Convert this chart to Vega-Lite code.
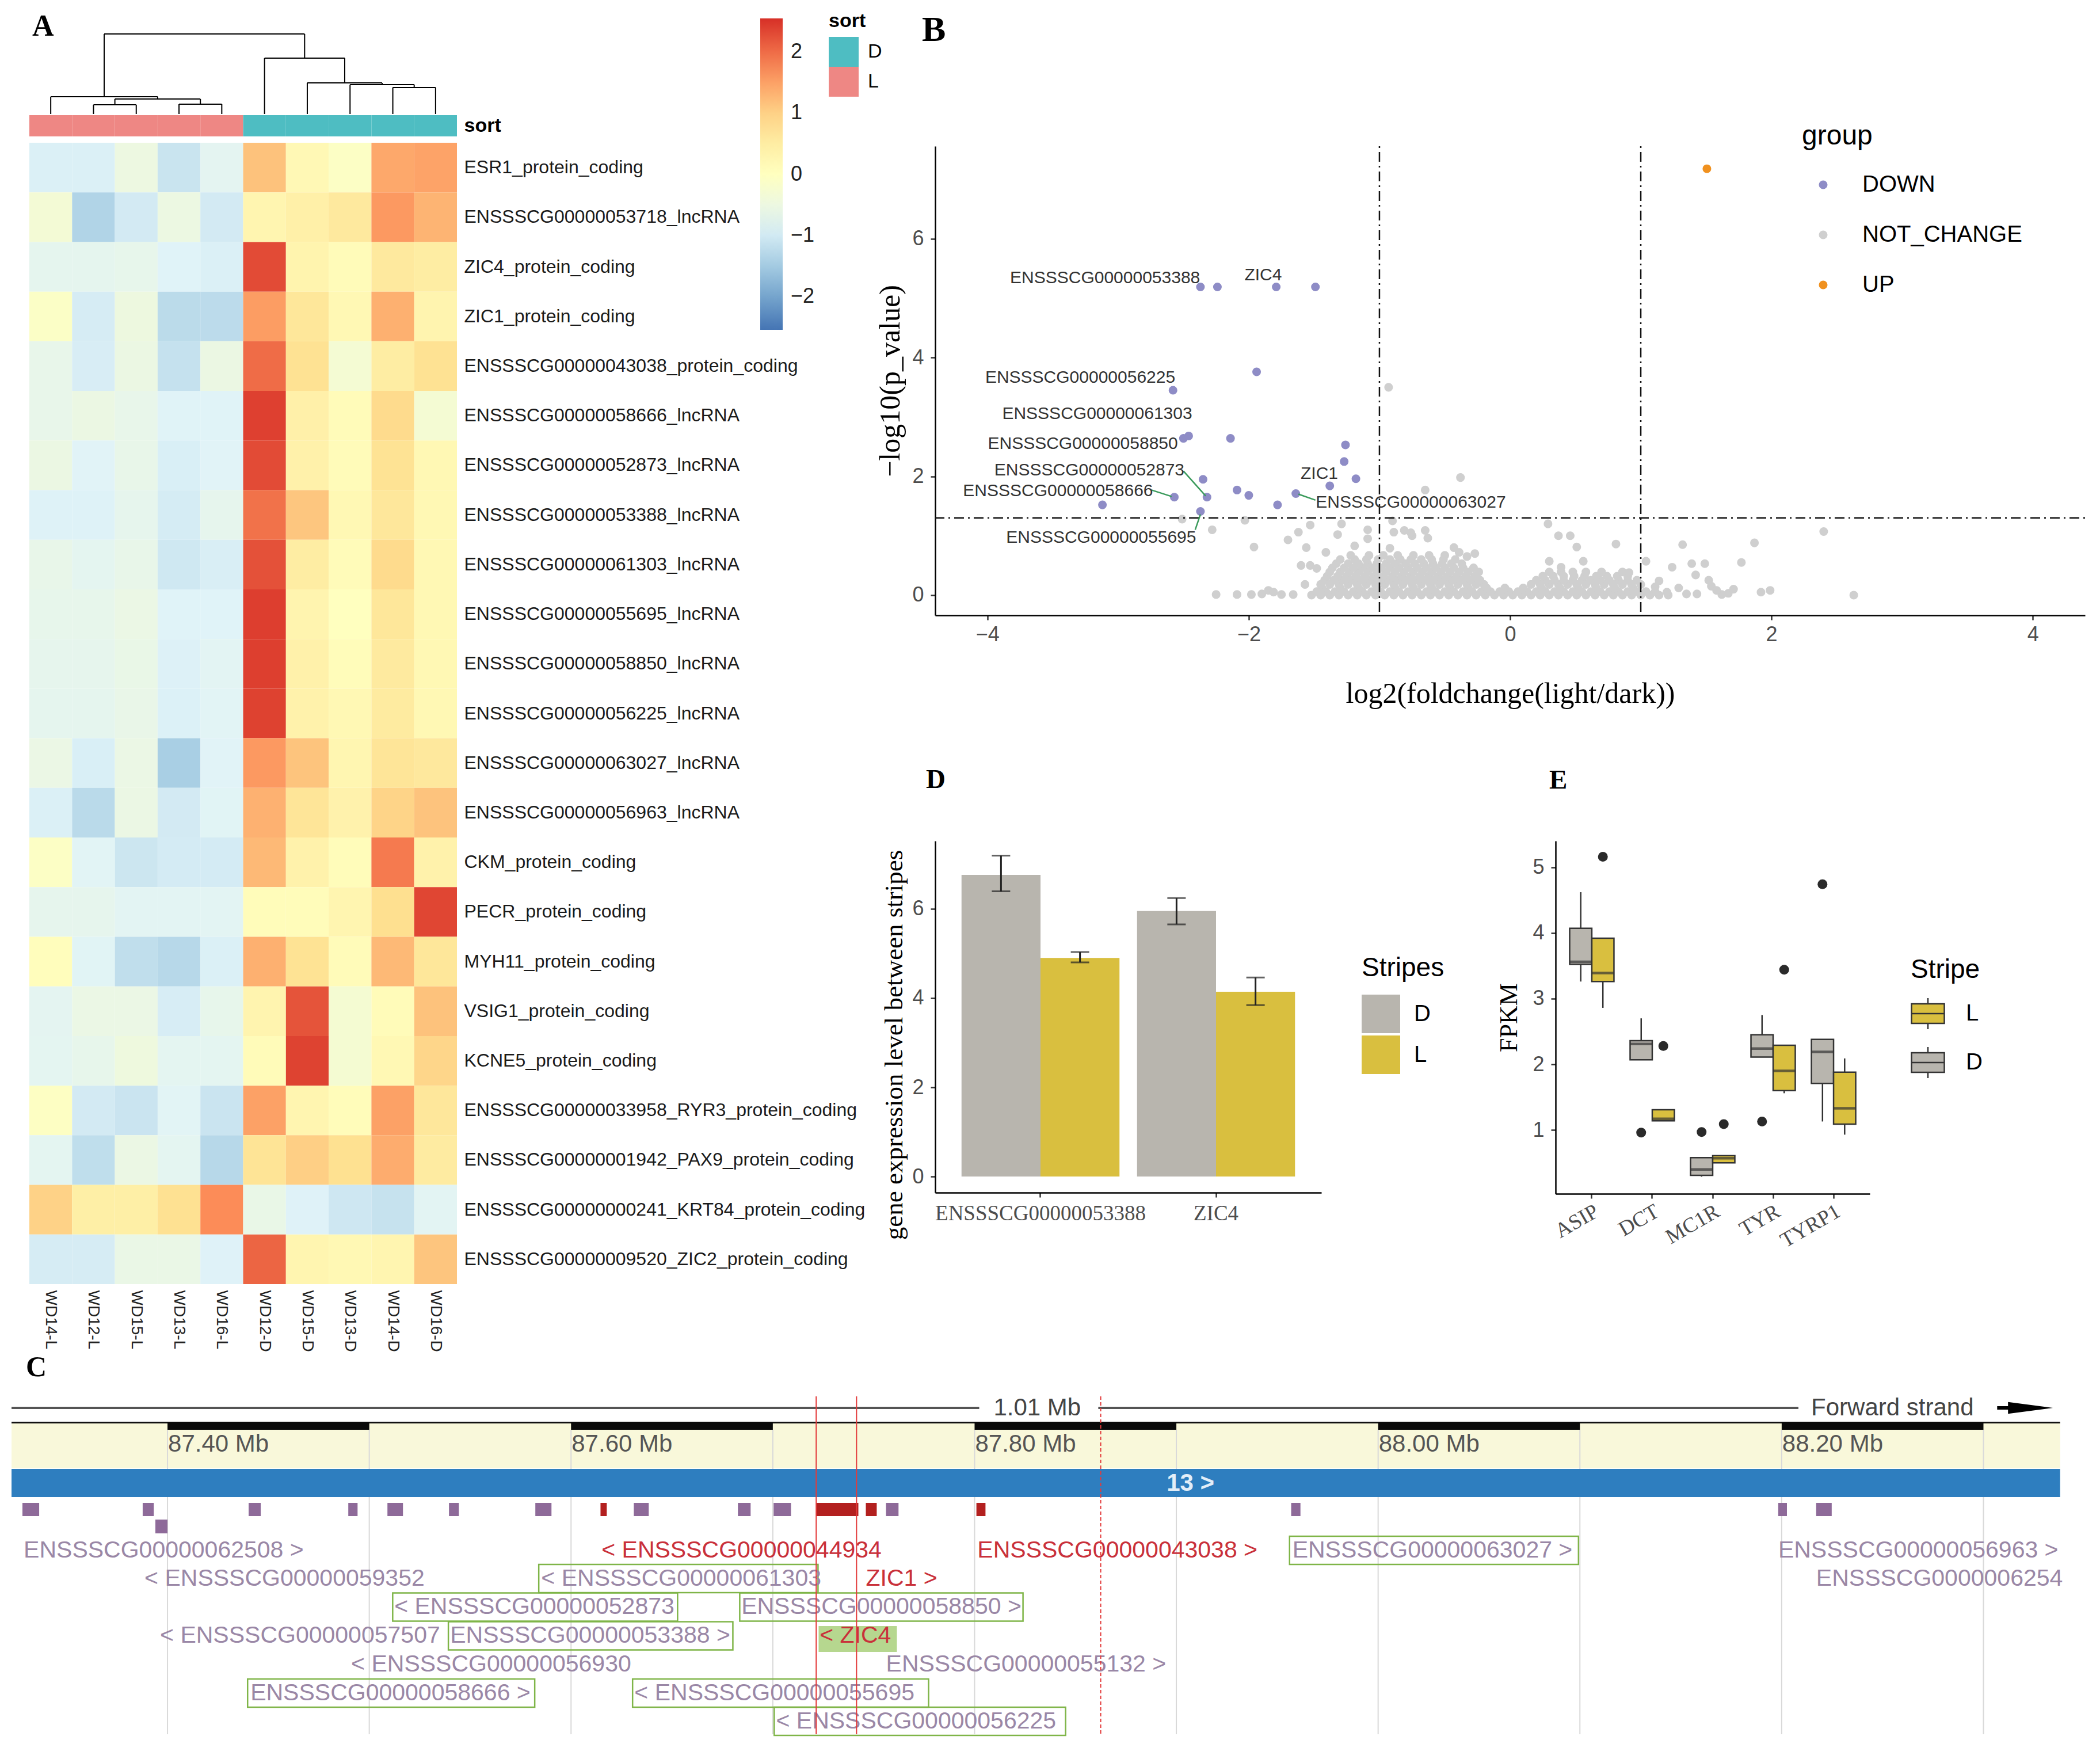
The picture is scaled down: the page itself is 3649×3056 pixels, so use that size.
{
"$schema": "https://vega.github.io/schema/vega-lite/v6.json",
"background": "white",
"padding": {"left": 18, "top": 20, "right": 0, "bottom": 0},
"autosize": {"type": "pad"},
"config": {
  "view": {"stroke": null},
  "font": "Liberation Sans",
  "axis": {"grid": false, "labelLimit": 0},
  "legend": {"labelLimit": 0},
  "title": {"font": "Liberation Serif", "fontWeight": "bold", "color": "#000", "anchor": "start", "frame": "group", "baseline": "alphabetic"}
},
"datasets": {
  "heat": [
    {"g":"ESR1_protein_coding","WD14-L":-0.9,"WD12-L":-0.9,"WD15-L":-0.5,"WD13-L":-1.1,"WD16-L":-0.75,"WD12-D":1.16,"WD15-D":0.18,"WD13-D":-0.09,"WD14-D":1.42,"WD16-D":1.47},
    {"g":"ENSSSCG00000053718_lncRNA","WD14-L":-0.33,"WD12-L":-1.36,"WD15-L":-0.99,"WD13-L":-0.52,"WD16-L":-0.99,"WD12-D":0.28,"WD15-D":0.42,"WD13-D":0.6,"WD14-D":1.58,"WD16-D":1.3},
    {"g":"ZIC4_protein_coding","WD14-L":-0.7,"WD12-L":-0.7,"WD15-L":-0.65,"WD13-L":-0.85,"WD16-L":-0.9,"WD12-D":2.3,"WD15-D":0.3,"WD13-D":0.1,"WD14-D":0.6,"WD16-D":0.5},
    {"g":"ZIC1_protein_coding","WD14-L":-0.1,"WD12-L":-0.96,"WD15-L":-0.48,"WD13-L":-1.25,"WD16-L":-1.24,"WD12-D":1.54,"WD15-D":0.67,"WD13-D":0.19,"WD14-D":1.34,"WD16-D":0.29},
    {"g":"ENSSSCG00000043038_protein_coding","WD14-L":-0.64,"WD12-L":-0.94,"WD15-L":-0.54,"WD13-L":-1.14,"WD16-L":-0.54,"WD12-D":2.0,"WD15-D":0.8,"WD13-D":-0.3,"WD14-D":0.5,"WD16-D":0.8},
    {"g":"ENSSSCG00000058666_lncRNA","WD14-L":-0.64,"WD12-L":-0.54,"WD15-L":-0.64,"WD13-L":-0.84,"WD16-L":-0.84,"WD12-D":2.4,"WD15-D":0.4,"WD13-D":0.1,"WD14-D":0.9,"WD16-D":-0.3},
    {"g":"ENSSSCG00000052873_lncRNA","WD14-L":-0.54,"WD12-L":-0.83,"WD15-L":-0.63,"WD13-L":-0.92,"WD16-L":-0.83,"WD12-D":2.3,"WD15-D":0.38,"WD13-D":0.1,"WD14-D":0.77,"WD16-D":0.19},
    {"g":"ENSSSCG00000053388_lncRNA","WD14-L":-0.87,"WD12-L":-0.87,"WD15-L":-0.69,"WD13-L":-0.97,"WD16-L":-0.69,"WD12-D":1.95,"WD15-D":1.12,"WD13-D":0.19,"WD14-D":0.65,"WD16-D":0.19},
    {"g":"ENSSSCG00000061303_lncRNA","WD14-L":-0.63,"WD12-L":-0.73,"WD15-L":-0.63,"WD13-L":-1.03,"WD16-L":-0.93,"WD12-D":2.25,"WD15-D":0.5,"WD13-D":0.1,"WD14-D":0.9,"WD16-D":0.2},
    {"g":"ENSSSCG00000055695_lncRNA","WD14-L":-0.66,"WD12-L":-0.66,"WD15-L":-0.56,"WD13-L":-0.85,"WD16-L":-0.85,"WD12-D":2.42,"WD15-D":0.29,"WD13-D":0.0,"WD14-D":0.67,"WD16-D":0.19},
    {"g":"ENSSSCG00000058850_lncRNA","WD14-L":-0.69,"WD12-L":-0.69,"WD15-L":-0.6,"WD13-L":-0.88,"WD16-L":-0.78,"WD12-D":2.41,"WD15-D":0.38,"WD13-D":0.09,"WD14-D":0.57,"WD16-D":0.19},
    {"g":"ENSSSCG00000056225_lncRNA","WD14-L":-0.7,"WD12-L":-0.7,"WD15-L":-0.61,"WD13-L":-0.89,"WD16-L":-0.8,"WD12-D":2.39,"WD15-D":0.37,"WD13-D":0.19,"WD14-D":0.56,"WD16-D":0.19},
    {"g":"ENSSSCG00000063027_lncRNA","WD14-L":-0.56,"WD12-L":-0.92,"WD15-L":-0.56,"WD13-L":-1.44,"WD16-L":-0.83,"WD12-D":1.58,"WD15-D":1.14,"WD13-D":0.26,"WD14-D":0.7,"WD16-D":0.62},
    {"g":"ENSSSCG00000056963_lncRNA","WD14-L":-0.9,"WD12-L":-1.26,"WD15-L":-0.55,"WD13-L":-0.99,"WD16-L":-0.81,"WD12-D":1.33,"WD15-D":0.71,"WD13-D":0.35,"WD14-D":0.97,"WD16-D":1.15},
    {"g":"CKM_protein_coding","WD14-L":-0.09,"WD12-L":-0.8,"WD15-L":-1.07,"WD13-L":-0.98,"WD16-L":-0.98,"WD12-D":1.25,"WD15-D":0.36,"WD13-D":0.09,"WD14-D":1.87,"WD16-D":0.36},
    {"g":"PECR_protein_coding","WD14-L":-0.68,"WD12-L":-0.68,"WD15-L":-0.77,"WD13-L":-0.77,"WD16-L":-0.77,"WD12-D":0.09,"WD15-D":0.09,"WD13-D":0.28,"WD14-D":0.85,"WD16-D":2.35},
    {"g":"MYH11_protein_coding","WD14-L":0.06,"WD12-L":-0.81,"WD15-L":-1.19,"WD13-L":-1.29,"WD16-L":-0.9,"WD12-D":1.34,"WD15-D":0.77,"WD13-D":0.1,"WD14-D":1.25,"WD16-D":0.67},
    {"g":"VSIG1_protein_coding","WD14-L":-0.75,"WD12-L":-0.56,"WD15-L":-0.56,"WD13-L":-0.95,"WD16-L":-0.66,"WD12-D":0.29,"WD15-D":2.22,"WD13-D":-0.29,"WD14-D":0.1,"WD16-D":1.16},
    {"g":"KCNE5_protein_coding","WD14-L":-0.74,"WD12-L":-0.65,"WD15-L":-0.46,"WD13-L":-0.74,"WD16-L":-0.74,"WD12-D":0.1,"WD15-D":2.38,"WD13-D":-0.29,"WD14-D":0.19,"WD16-D":0.95},
    {"g":"ENSSSCG00000033958_RYR3_protein_coding","WD14-L":-0.06,"WD12-L":-0.99,"WD15-L":-1.09,"WD13-L":-0.8,"WD16-L":-1.09,"WD12-D":1.5,"WD15-D":0.28,"WD13-D":0.09,"WD14-D":1.5,"WD16-D":0.66},
    {"g":"ENSSSCG00000001942_PAX9_protein_coding","WD14-L":-0.74,"WD12-L":-1.2,"WD15-L":-0.55,"WD13-L":-0.74,"WD16-L":-1.29,"WD12-D":0.74,"WD15-D":1.02,"WD13-D":0.83,"WD14-D":1.38,"WD16-D":0.55},
    {"g":"ENSSSCG00000000241_KRT84_protein_coding","WD14-L":0.99,"WD12-L":0.45,"WD15-L":0.45,"WD13-L":0.81,"WD16-L":1.71,"WD12-D":-0.59,"WD15-D":-0.86,"WD13-D":-1.04,"WD14-D":-1.13,"WD16-D":-0.77},
    {"g":"ENSSSCG00000009520_ZIC2_protein_coding","WD14-L":-0.96,"WD12-L":-0.96,"WD15-L":-0.58,"WD13-L":-0.58,"WD16-L":-0.86,"WD12-D":2.07,"WD15-D":0.28,"WD13-D":0.19,"WD14-D":0.28,"WD16-D":1.13}
  ],
  "dendro": [
    {"x":1.5,"x2":1.5,"y":0,"y2":16},{"x":2.5,"x2":2.5,"y":0,"y2":16},{"x":1.5,"x2":2.5,"y":16,"y2":16},
    {"x":3.5,"x2":3.5,"y":0,"y2":17},{"x":4.5,"x2":4.5,"y":0,"y2":17},{"x":3.5,"x2":4.5,"y":17,"y2":17},
    {"x":2.0,"x2":2.0,"y":16,"y2":26},{"x":4.0,"x2":4.0,"y":17,"y2":26},{"x":2.0,"x2":4.0,"y":26,"y2":26},
    {"x":0.5,"x2":0.5,"y":0,"y2":30},{"x":3.0,"x2":3.0,"y":26,"y2":30},{"x":0.5,"x2":3.0,"y":30,"y2":30},
    {"x":8.5,"x2":8.5,"y":0,"y2":46},{"x":9.5,"x2":9.5,"y":0,"y2":46},{"x":8.5,"x2":9.5,"y":46,"y2":46},
    {"x":7.5,"x2":7.5,"y":0,"y2":51},{"x":9.0,"x2":9.0,"y":46,"y2":51},{"x":7.5,"x2":9.0,"y":51,"y2":51},
    {"x":6.5,"x2":6.5,"y":0,"y2":54},{"x":8.25,"x2":8.25,"y":51,"y2":54},{"x":6.5,"x2":8.25,"y":54,"y2":54},
    {"x":5.5,"x2":5.5,"y":0,"y2":97},{"x":7.375,"x2":7.375,"y":54,"y2":97},{"x":5.5,"x2":7.375,"y":97,"y2":97},
    {"x":1.75,"x2":1.75,"y":30,"y2":139},{"x":6.4375,"x2":6.4375,"y":97,"y2":139},{"x":1.75,"x2":6.4375,"y":139,"y2":139}
  ],
  "annot": [
    {"s":"WD14-L","sort":"L","r":"sort"},{"s":"WD12-L","sort":"L","r":"sort"},{"s":"WD15-L","sort":"L","r":"sort"},{"s":"WD13-L","sort":"L","r":"sort"},{"s":"WD16-L","sort":"L","r":"sort"},
    {"s":"WD12-D","sort":"D","r":"sort"},{"s":"WD15-D","sort":"D","r":"sort"},{"s":"WD13-D","sort":"D","r":"sort"},{"s":"WD14-D","sort":"D","r":"sort"},{"s":"WD16-D","sort":"D","r":"sort"}
  ],
  "nc": [
    {"x":-1.52,"y":0},{"x":-1.45,"y":0},{"x":-1.38,"y":0},{"x":-1.31,"y":0},{"x":-1.24,"y":0},{"x":-1.17,"y":0},{"x":-1.10,"y":0},{"x":-1.03,"y":0},{"x":-0.96,"y":0},{"x":-0.89,"y":0},
    {"x":-0.82,"y":0},{"x":-0.75,"y":0},{"x":-0.68,"y":0},{"x":-0.61,"y":0},{"x":-0.54,"y":0},{"x":-0.47,"y":0},{"x":-0.40,"y":0},{"x":-0.33,"y":0},{"x":-0.26,"y":0},{"x":-0.19,"y":0},
    {"x":-0.12,"y":0},{"x":-0.05,"y":0},{"x":0.02,"y":0},{"x":0.09,"y":0},{"x":0.16,"y":0},{"x":0.23,"y":0},{"x":0.30,"y":0},{"x":0.37,"y":0},{"x":0.44,"y":0},{"x":0.51,"y":0},
    {"x":0.58,"y":0},{"x":0.65,"y":0},{"x":0.72,"y":0},{"x":0.79,"y":0},{"x":0.86,"y":0},{"x":0.93,"y":0},{"x":1.00,"y":0},{"x":1.07,"y":0},{"x":1.14,"y":0},{"x":1.21,"y":0},
    {"x":-1.48,"y":0.06},{"x":-1.41,"y":0.06},{"x":-1.34,"y":0.06},{"x":-1.27,"y":0.06},{"x":-1.20,"y":0.06},{"x":-1.13,"y":0.06},{"x":-1.06,"y":0.06},{"x":-0.99,"y":0.06},{"x":-0.92,"y":0.06},{"x":-0.85,"y":0.06},
    {"x":-0.78,"y":0.06},{"x":-0.71,"y":0.06},{"x":-0.64,"y":0.06},{"x":-0.57,"y":0.06},{"x":-0.50,"y":0.06},{"x":-0.43,"y":0.06},{"x":-0.36,"y":0.06},{"x":-0.29,"y":0.06},{"x":-0.22,"y":0.06},{"x":-0.15,"y":0.06},
    {"x":-0.08,"y":0.06},{"x":-0.01,"y":0.06},{"x":0.06,"y":0.06},{"x":0.13,"y":0.06},{"x":0.20,"y":0.06},{"x":0.27,"y":0.06},{"x":0.34,"y":0.06},{"x":0.41,"y":0.06},{"x":0.48,"y":0.06},{"x":0.55,"y":0.06},
    {"x":0.62,"y":0.06},{"x":0.69,"y":0.06},{"x":0.76,"y":0.06},{"x":0.83,"y":0.06},{"x":0.90,"y":0.06},{"x":0.97,"y":0.06},{"x":1.04,"y":0.06},{"x":1.11,"y":0.06},
    {"x":-1.44,"y":0.12},{"x":-1.30,"y":0.12},{"x":-1.16,"y":0.12},{"x":-1.02,"y":0.12},{"x":-0.88,"y":0.12},{"x":-0.74,"y":0.12},{"x":-0.60,"y":0.12},{"x":-0.46,"y":0.12},{"x":-0.32,"y":0.12},{"x":-0.18,"y":0.12},
    {"x":-0.04,"y":0.12},{"x":0.10,"y":0.12},{"x":0.24,"y":0.12},{"x":0.38,"y":0.12},{"x":0.52,"y":0.12},{"x":0.66,"y":0.12},{"x":0.80,"y":0.12},{"x":0.94,"y":0.12},
    {"x":-1.45,"y":0.18},{"x":-1.38,"y":0.18},{"x":-1.31,"y":0.18},{"x":-1.24,"y":0.18},{"x":-1.17,"y":0.18},{"x":-1.10,"y":0.18},{"x":-1.03,"y":0.18},{"x":-0.96,"y":0.18},{"x":-0.89,"y":0.18},{"x":-0.82,"y":0.18},
    {"x":-0.75,"y":0.18},{"x":-0.68,"y":0.18},{"x":-0.61,"y":0.18},{"x":-0.54,"y":0.18},{"x":-0.47,"y":0.18},{"x":-0.40,"y":0.18},{"x":-0.33,"y":0.18},{"x":-0.26,"y":0.18},{"x":-0.20,"y":0.18},
    {"x":-1.42,"y":0.25},{"x":-1.35,"y":0.25},{"x":-1.28,"y":0.25},{"x":-1.21,"y":0.25},{"x":-1.14,"y":0.25},{"x":-1.07,"y":0.25},{"x":-1.00,"y":0.25},{"x":-0.93,"y":0.25},{"x":-0.86,"y":0.25},{"x":-0.79,"y":0.25},
    {"x":-0.72,"y":0.25},{"x":-0.65,"y":0.25},{"x":-0.58,"y":0.25},{"x":-0.51,"y":0.25},{"x":-0.44,"y":0.25},{"x":-0.37,"y":0.25},{"x":-0.30,"y":0.25},{"x":-0.23,"y":0.25},
    {"x":-1.40,"y":0.32},{"x":-1.32,"y":0.32},{"x":-1.25,"y":0.32},{"x":-1.18,"y":0.32},{"x":-1.11,"y":0.32},{"x":-1.04,"y":0.32},{"x":-0.97,"y":0.32},{"x":-0.90,"y":0.32},{"x":-0.83,"y":0.32},{"x":-0.76,"y":0.32},
    {"x":-0.69,"y":0.32},{"x":-0.62,"y":0.32},{"x":-0.55,"y":0.32},{"x":-0.48,"y":0.32},{"x":-0.41,"y":0.32},{"x":-0.34,"y":0.32},{"x":-0.27,"y":0.32},
    {"x":-1.38,"y":0.39},{"x":-1.30,"y":0.39},{"x":-1.23,"y":0.39},{"x":-1.16,"y":0.39},{"x":-1.09,"y":0.39},{"x":-1.02,"y":0.39},{"x":-0.95,"y":0.39},{"x":-0.88,"y":0.39},{"x":-0.81,"y":0.39},{"x":-0.74,"y":0.39},
    {"x":-0.67,"y":0.39},{"x":-0.60,"y":0.39},{"x":-0.53,"y":0.39},{"x":-0.46,"y":0.39},{"x":-0.39,"y":0.39},{"x":-0.32,"y":0.39},{"x":-0.24,"y":0.39},
    {"x":-1.36,"y":0.46},{"x":-1.27,"y":0.46},{"x":-1.20,"y":0.46},{"x":-1.13,"y":0.46},{"x":-1.06,"y":0.46},{"x":-0.99,"y":0.46},{"x":-0.92,"y":0.46},{"x":-0.85,"y":0.46},{"x":-0.78,"y":0.46},{"x":-0.71,"y":0.46},
    {"x":-0.64,"y":0.46},{"x":-0.57,"y":0.46},{"x":-0.50,"y":0.46},{"x":-0.43,"y":0.46},{"x":-0.36,"y":0.46},{"x":-0.28,"y":0.46},
    {"x":-1.33,"y":0.53},{"x":-1.24,"y":0.53},{"x":-1.16,"y":0.53},{"x":-1.09,"y":0.53},{"x":-1.02,"y":0.53},{"x":-0.95,"y":0.53},{"x":-0.88,"y":0.53},{"x":-0.80,"y":0.53},{"x":-0.73,"y":0.53},{"x":-0.66,"y":0.53},
    {"x":-0.59,"y":0.53},{"x":-0.52,"y":0.53},{"x":-0.45,"y":0.53},{"x":-0.37,"y":0.53},
    {"x":-1.30,"y":0.60},{"x":-1.19,"y":0.60},{"x":-1.10,"y":0.60},{"x":-1.01,"y":0.60},{"x":-0.92,"y":0.60},{"x":-0.84,"y":0.60},{"x":-0.76,"y":0.60},{"x":-0.68,"y":0.60},{"x":-0.60,"y":0.60},{"x":-0.51,"y":0.60},
    {"x":-0.42,"y":0.60},
    {"x":-1.22,"y":0.67},{"x":-1.08,"y":0.67},{"x":-0.97,"y":0.67},{"x":-0.86,"y":0.67},{"x":-0.74,"y":0.67},{"x":-0.62,"y":0.67},{"x":-0.50,"y":0.67},
    {"x":0.16,"y":0.18},{"x":0.23,"y":0.18},{"x":0.30,"y":0.18},{"x":0.37,"y":0.18},{"x":0.44,"y":0.18},{"x":0.51,"y":0.18},{"x":0.58,"y":0.18},{"x":0.65,"y":0.18},{"x":0.72,"y":0.18},{"x":0.79,"y":0.18},
    {"x":0.86,"y":0.18},{"x":0.93,"y":0.18},{"x":1.00,"y":0.18},
    {"x":0.20,"y":0.25},{"x":0.27,"y":0.25},{"x":0.34,"y":0.25},{"x":0.41,"y":0.25},{"x":0.48,"y":0.25},{"x":0.55,"y":0.25},{"x":0.62,"y":0.25},{"x":0.69,"y":0.25},{"x":0.76,"y":0.25},{"x":0.83,"y":0.25},
    {"x":0.90,"y":0.25},{"x":0.97,"y":0.25},
    {"x":0.25,"y":0.32},{"x":0.33,"y":0.32},{"x":0.41,"y":0.32},{"x":0.49,"y":0.32},{"x":0.57,"y":0.32},{"x":0.66,"y":0.32},{"x":0.74,"y":0.32},{"x":0.82,"y":0.32},{"x":0.90,"y":0.32},
    {"x":0.30,"y":0.39},{"x":0.39,"y":0.39},{"x":0.48,"y":0.39},{"x":0.58,"y":0.39},{"x":0.70,"y":0.39},{"x":0.86,"y":0.39},
    {"x":-2.51,"y":1.28},{"x":-2.28,"y":1.10},{"x":-2.03,"y":1.26},{"x":-2.25,"y":0.01},{"x":-2.09,"y":0.01},{"x":-1.98,"y":0.01},{"x":-1.96,"y":0.81},{"x":-1.90,"y":0.02},{"x":-1.85,"y":0.08},{"x":-1.81,"y":0.05},
    {"x":-1.75,"y":0.01},{"x":-1.66,"y":0.01},{"x":-1.70,"y":0.93},{"x":-1.62,"y":1.06},{"x":-1.53,"y":1.18},{"x":-1.56,"y":0.80},{"x":-1.57,"y":0.18},{"x":-1.60,"y":0.50},{"x":-1.53,"y":0.50},{"x":-1.48,"y":0.45},
    {"x":-1.32,"y":1.02},{"x":-1.29,"y":1.20},{"x":-1.41,"y":0.72},{"x":-1.19,"y":0.83},{"x":-1.09,"y":0.95},{"x":-1.09,"y":1.10},{"x":-0.92,"y":0.79},{"x":-0.89,"y":1.06},{"x":-0.81,"y":1.09},{"x":-0.75,"y":1.00},
    {"x":-0.65,"y":1.09},{"x":-0.63,"y":0.96},{"x":-0.43,"y":0.80},{"x":-0.27,"y":0.70},{"x":-0.39,"y":0.72},{"x":-0.33,"y":0.65},{"x":-0.93,"y":3.50},{"x":-0.38,"y":1.98},{"x":-0.65,"y":1.77},{"x":-0.90,"y":1.25},
    {"x":-0.76,"y":1.05},
    {"x":0.29,"y":1.20},{"x":0.81,"y":0.86},{"x":1.32,"y":0.85},{"x":1.87,"y":0.88},{"x":0.37,"y":1.00},{"x":0.46,"y":1.00},{"x":0.51,"y":0.81},{"x":0.56,"y":0.57},{"x":0.30,"y":0.57},{"x":0.39,"y":0.47},
    {"x":1.24,"y":0.47},{"x":1.39,"y":0.53},{"x":1.49,"y":0.53},{"x":1.42,"y":0.34},{"x":1.52,"y":0.25},{"x":1.54,"y":0.15},{"x":1.77,"y":0.55},{"x":1.67,"y":0.03},{"x":1.43,"y":0.02},{"x":1.04,"y":0.57},
    {"x":0.91,"y":0.38},{"x":1.29,"y":0.12},{"x":2.40,"y":1.07},{"x":1.62,"y":0.01},{"x":1.92,"y":0.05},{"x":1.99,"y":0.08},{"x":2.63,"y":0.0},{"x":1.14,"y":0.24},{"x":1.11,"y":0.14},{"x":1.20,"y":0.05},
    {"x":1.35,"y":0.02},{"x":1.58,"y":0.08},{"x":1.71,"y":0.10}
  ],
  "sig": [
    {"x":-2.37,"y":5.19,"g":"DOWN"},{"x":-2.24,"y":5.19,"g":"DOWN"},{"x":-1.79,"y":5.19,"g":"DOWN"},{"x":-1.49,"y":5.19,"g":"DOWN"},{"x":-1.94,"y":3.76,"g":"DOWN"},
    {"x":-2.58,"y":3.45,"g":"DOWN"},{"x":-2.50,"y":2.64,"g":"DOWN"},{"x":-2.46,"y":2.68,"g":"DOWN"},{"x":-2.14,"y":2.64,"g":"DOWN"},{"x":-1.26,"y":2.53,"g":"DOWN"},
    {"x":-1.27,"y":2.25,"g":"DOWN"},{"x":-1.18,"y":1.96,"g":"DOWN"},{"x":-1.38,"y":1.84,"g":"DOWN"},{"x":-1.64,"y":1.71,"g":"DOWN"},{"x":-2.35,"y":1.95,"g":"DOWN"},
    {"x":-2.32,"y":1.65,"g":"DOWN"},{"x":-2.57,"y":1.65,"g":"DOWN"},{"x":-2.09,"y":1.77,"g":"DOWN"},{"x":-2.00,"y":1.68,"g":"DOWN"},{"x":-1.78,"y":1.52,"g":"DOWN"},
    {"x":-3.12,"y":1.52,"g":"DOWN"},{"x":-2.37,"y":1.41,"g":"DOWN"},{"x":1.506,"y":7.18,"g":"UP"}
  ],
  "vlab": [
    {"t":"ENSSSCG00000053388","x":-3.10,"y":5.34},{"t":"ZIC4","x":-1.89,"y":5.39},{"t":"ENSSSCG00000056225","x":-3.29,"y":3.66},
    {"t":"ENSSSCG00000061303","x":-3.16,"y":3.05},{"t":"ENSSSCG00000058850","x":-3.27,"y":2.55},{"t":"ENSSSCG00000052873","x":-3.22,"y":2.10},
    {"t":"ENSSSCG00000058666","x":-3.46,"y":1.75},{"t":"ZIC1","x":-1.46,"y":2.04},{"t":"ENSSSCG00000063027","x":-0.76,"y":1.56},
    {"t":"ENSSSCG00000055695","x":-3.13,"y":0.97}
  ],
  "seg": [
    {"x":-2.50,"y":2.09,"x2":-2.33,"y2":1.67},{"x":-2.744,"y":1.77,"x2":-2.59,"y2":1.66},
    {"x":-1.49,"y":1.60,"x2":-1.62,"y2":1.70},{"x":-2.41,"y":1.10,"x2":-2.37,"y2":1.36}
  ],
  "bars": [
    {"gene":"ENSSSCG00000053388","s":"D","v":6.76,"lo":6.39,"hi":7.19},
    {"gene":"ENSSSCG00000053388","s":"L","v":4.90,"lo":4.80,"hi":5.03},
    {"gene":"ZIC4","s":"D","v":5.95,"lo":5.65,"hi":6.24},
    {"gene":"ZIC4","s":"L","v":4.14,"lo":3.84,"hi":4.46}
  ],
  "box": [
    {"gene":"ASIP","s":"D","lo":3.26,"q1":3.52,"med":3.56,"q3":4.07,"hi":4.62},
    {"gene":"ASIP","s":"L","lo":2.86,"q1":3.26,"med":3.39,"q3":3.92,"hi":3.92},
    {"gene":"DCT","s":"D","lo":2.07,"q1":2.07,"med":2.31,"q3":2.36,"hi":2.70},
    {"gene":"DCT","s":"L","lo":1.14,"q1":1.14,"med":1.17,"q3":1.31,"hi":1.31},
    {"gene":"MC1R","s":"D","lo":0.29,"q1":0.31,"med":0.40,"q3":0.58,"hi":0.58},
    {"gene":"MC1R","s":"L","lo":0.50,"q1":0.50,"med":0.57,"q3":0.61,"hi":0.61},
    {"gene":"TYR","s":"D","lo":2.11,"q1":2.11,"med":2.24,"q3":2.45,"hi":2.75},
    {"gene":"TYR","s":"L","lo":1.56,"q1":1.60,"med":1.90,"q3":2.29,"hi":2.29},
    {"gene":"TYRP1","s":"D","lo":1.13,"q1":1.71,"med":2.19,"q3":2.38,"hi":2.38},
    {"gene":"TYRP1","s":"L","lo":0.93,"q1":1.09,"med":1.33,"q3":1.88,"hi":2.09}
  ],
  "outl": [
    {"gene":"ASIP","s":"L","v":5.16},{"gene":"DCT","s":"D","v":0.96},{"gene":"DCT","s":"L","v":2.28},{"gene":"MC1R","s":"D","v":0.97},
    {"gene":"MC1R","s":"L","v":1.09},{"gene":"TYR","s":"D","v":1.13},{"gene":"TYR","s":"L","v":3.44},{"gene":"TYRP1","s":"D","v":4.74}
  ],
  "cband": [{"a":87.3227,"b":88.338}],
  "grid": [
    {"mb":87.4,"lab":"87.40 Mb"},{"mb":87.5},{"mb":87.6,"lab":"87.60 Mb"},{"mb":87.7},{"mb":87.8,"lab":"87.80 Mb"},
    {"mb":87.9},{"mb":88.0,"lab":"88.00 Mb"},{"mb":88.1},{"mb":88.2,"lab":"88.20 Mb"},{"mb":88.3}
  ],
  "blk": [{"a":87.4,"b":87.5},{"a":87.6,"b":87.7},{"a":87.8,"b":87.9},{"a":88.0,"b":88.1},{"a":88.2,"b":88.3}],
  "ruler": [{"a":87.3227,"b":87.8023},{"a":87.8613,"b":88.2083}],
  "rtext": [{"t":"1.01 Mb","mb":87.8094},{"t":"Forward strand","mb":88.2146}],
  "chrom": [{"t":"13 >","mb":87.907}],
  "blocks": [
    {"a":87.3281,"b":87.3364,"top":4.02,"bot":4.48,"t":"lnc"},{"a":87.3877,"b":87.3932,"top":4.02,"bot":4.48,"t":"lnc"},
    {"a":87.3940,"b":87.4000,"top":4.6,"bot":5.08,"t":"lnc"},{"a":87.4402,"b":87.4462,"top":4.02,"bot":4.48,"t":"lnc"},
    {"a":87.4896,"b":87.4942,"top":4.02,"bot":4.48,"t":"lnc"},{"a":87.5090,"b":87.5167,"top":4.02,"bot":4.48,"t":"lnc"},
    {"a":87.5395,"b":87.5444,"top":4.02,"bot":4.48,"t":"lnc"},{"a":87.5823,"b":87.5903,"top":4.02,"bot":4.48,"t":"lnc"},
    {"a":87.6146,"b":87.6177,"top":4.02,"bot":4.48,"t":"pc"},{"a":87.6311,"b":87.6385,"top":4.02,"bot":4.48,"t":"lnc"},
    {"a":87.6827,"b":87.6890,"top":4.02,"bot":4.48,"t":"lnc"},{"a":87.7004,"b":87.7090,"top":4.02,"bot":4.48,"t":"lnc"},
    {"a":87.7215,"b":87.7424,"top":4.02,"bot":4.48,"t":"pc"},{"a":87.7461,"b":87.7515,"top":4.02,"bot":4.48,"t":"pc"},
    {"a":87.7561,"b":87.7623,"top":4.02,"bot":4.48,"t":"lnc"},{"a":87.8009,"b":87.8054,"top":4.02,"bot":4.48,"t":"pc"},
    {"a":87.9569,"b":87.9615,"top":4.02,"bot":4.48,"t":"lnc"},{"a":88.1983,"b":88.2026,"top":4.02,"bot":4.48,"t":"lnc"},
    {"a":88.2171,"b":88.2248,"top":4.02,"bot":4.48,"t":"lnc"}
  ],
  "glab": [
    {"n":"ENSSSCG00000062508 >","x":87.3287,"y":5.67,"t":"lnc"},
    {"n":"< ENSSSCG00000044934","x":87.6151,"y":5.67,"t":"pc"},
    {"n":"ENSSSCG00000043038 >","x":87.8014,"y":5.67,"t":"pc"},
    {"n":"ENSSSCG00000063027 >","x":87.9575,"y":5.67,"t":"lnc"},
    {"n":"ENSSSCG00000056963 >","x":88.1983,"y":5.67,"t":"lnc"},
    {"n":"< ENSSSCG00000059352","x":87.3886,"y":6.65,"t":"lnc"},
    {"n":"< ENSSSCG00000061303","x":87.5852,"y":6.65,"t":"lnc"},
    {"n":"ZIC1 >","x":87.7461,"y":6.65,"t":"pc"},
    {"n":"ENSSSCG0000006254","x":88.2171,"y":6.65,"t":"lnc"},
    {"n":"< ENSSSCG00000052873","x":87.5124,"y":7.64,"t":"lnc"},
    {"n":"ENSSSCG00000058850 >","x":87.6844,"y":7.64,"t":"lnc"},
    {"n":"< ENSSSCG00000057507","x":87.3963,"y":8.64,"t":"lnc"},
    {"n":"ENSSSCG00000053388 >","x":87.5401,"y":8.64,"t":"lnc"},
    {"n":"< ZIC4","x":87.7232,"y":8.64,"t":"pc"},
    {"n":"< ENSSSCG00000056930","x":87.4910,"y":9.63,"t":"lnc"},
    {"n":"ENSSSCG00000055132 >","x":87.7561,"y":9.63,"t":"lnc"},
    {"n":"ENSSSCG00000058666 >","x":87.4411,"y":10.63,"t":"lnc"},
    {"n":"< ENSSSCG00000055695","x":87.6314,"y":10.63,"t":"lnc"},
    {"n":"< ENSSSCG00000056225","x":87.7016,"y":11.61,"t":"lnc"}
  ],
  "gbox": [
    {"a":87.9561,"b":88.0993,"top":5.18,"bot":6.16},{"a":87.5840,"b":87.7224,"top":6.16,"bot":7.14},
    {"a":87.5116,"b":87.6528,"top":7.15,"bot":8.13},{"a":87.6836,"b":87.8240,"top":7.15,"bot":8.13},
    {"a":87.5392,"b":87.6802,"top":8.15,"bot":9.13},{"a":87.4397,"b":87.5820,"top":10.14,"bot":11.12},
    {"a":87.6305,"b":87.7772,"top":10.14,"bot":11.12},{"a":87.7007,"b":87.8451,"top":11.12,"bot":12.10}
  ],
  "hl": [{"a":87.7227,"b":87.7615,"top":8.3,"bot":9.2}],
  "redsolid": [{"mb":87.7215},{"mb":87.7415}],
  "reddash": [{"mb":87.8625}]
},
"vconcat": [
  {
    "hconcat": [
      {
        "vconcat": [
          {
            "vconcat": [
              {
                "width": 743, "height": 139,
                "title": {"text": "A", "fontSize": 52, "dx": 5, "offset": 0, "dy": 15},
                "data": {"name": "dendro"},
                "mark": {"type": "rule", "color": "#000", "strokeWidth": 2},
                "encoding": {
                  "x": {"field": "x", "type": "quantitative", "scale": {"domain": [0, 10], "nice": false, "zero": false}, "axis": null},
                  "x2": {"field": "x2"},
                  "y": {"field": "y", "type": "quantitative", "scale": {"domain": [0, 139], "nice": false, "zero": false}, "axis": null},
                  "y2": {"field": "y2"}
                }
              },
              {
                "width": 743, "height": 37,
                "data": {"name": "annot"},
                "mark": {"type": "rect"},
                "encoding": {
                  "x": {"field": "s", "type": "nominal", "sort": ["WD14-L","WD12-L","WD15-L","WD13-L","WD16-L","WD12-D","WD15-D","WD13-D","WD14-D","WD16-D"], "scale": {"paddingInner": 0, "paddingOuter": 0}, "axis": null},
                  "y": {"field": "r", "type": "nominal", "scale": {"paddingInner": 0, "paddingOuter": 0}, "axis": {"orient": "right", "labelFontSize": 34, "labelFontWeight": "bold", "labelColor": "#000", "labelPadding": 12, "ticks": false, "domain": false, "title": null}},
                  "color": {"field": "sort", "type": "nominal", "scale": {"domain": ["D", "L"], "range": ["#4EBDC2", "#EE8784"]},
                    "legend": {"orient": "none", "legendX": 1389, "legendY": -180, "title": "sort", "titleFontSize": 34, "titleFontWeight": "bold", "titleColor": "#000", "titlePadding": 10, "labelFontSize": 34, "labelColor": "#000", "symbolType": "square", "symbolSize": 2704, "rowPadding": 0, "labelOffset": 16, "symbolStrokeWidth": 0}}
                }
              }
            ],
            "spacing": 2, "bounds": "flush",
            "resolve": {"scale": {"x": "independent", "y": "independent", "color": "independent"}, "legend": {"color": "independent"}}
          },
          {
            "width": 743, "height": 1983,
            "data": {"name": "heat"},
            "transform": [{"fold": ["WD14-L","WD12-L","WD15-L","WD13-L","WD16-L","WD12-D","WD15-D","WD13-D","WD14-D","WD16-D"], "as": ["sample", "z"]}],
            "mark": {"type": "rect"},
            "encoding": {
              "x": {"field": "sample", "type": "nominal", "sort": ["WD14-L","WD12-L","WD15-L","WD13-L","WD16-L","WD12-D","WD15-D","WD13-D","WD14-D","WD16-D"], "scale": {"paddingInner": 0, "paddingOuter": 0},
                "axis": {"orient": "bottom", "labelAngle": 90, "labelFontSize": 28, "labelColor": "#222", "labelPadding": 10, "ticks": false, "domain": false, "title": null}},
              "y": {"field": "g", "type": "nominal", "sort": null, "scale": {"paddingInner": 0, "paddingOuter": 0},
                "axis": {"orient": "right", "labelFontSize": 32, "labelColor": "#1a1a1a", "labelPadding": 12, "ticks": false, "domain": false, "title": null}},
              "color": {"field": "z", "type": "quantitative",
                "scale": {"domain": [-2.55, -1.7, -0.85, 0, 0.85, 1.7, 2.55], "range": ["#4575B4", "#91BFDB", "#E0F3F8", "#FFFFBF", "#FEE090", "#FC8D59", "#D73027"], "interpolate": "rgb"},
                "legend": {"orient": "none", "legendX": 1270, "legendY": -216, "direction": "vertical", "gradientLength": 541, "gradientThickness": 39, "title": null, "values": [-2, -1, 0, 1, 2], "format": "d", "labelOverlap": false, "labelFontSize": 36, "labelColor": "#222", "labelOffset": 14, "gradientStrokeWidth": 0}}
            }
          }
        ],
        "spacing": 189, "bounds": "flush",
        "resolve": {"scale": {"x": "independent", "y": "independent", "color": "independent"}, "legend": {"color": "independent"}}
      },
      {
        "vconcat": [
          {
            "width": 10, "height": 195,
            "data": {"values": [{}]},
            "mark": {"type": "rule", "opacity": 0},
            "encoding": {}
          },
          {
            "vconcat": [
              {
                "width": 1998, "height": 815,
                "title": {"text": "B", "fontSize": 62, "dx": -23, "offset": 129},
                "layer": [
                  {
                    "data": {"name": "nc"},
                    "mark": {"type": "circle", "size": 227, "opacity": 1},
                    "encoding": {
                      "x": {"field": "x", "type": "quantitative", "scale": {"domain": [-4.4, 4.4], "nice": false, "zero": false},
                        "axis": {"values": [-4, -2, 0, 2, 4], "format": "d", "title": "log2(foldchange(light/dark))", "titleFont": "Liberation Serif", "titleFontSize": 50, "titleFontWeight": "normal", "titleColor": "#000", "titlePadding": 60, "labelFont": "Liberation Sans", "labelFontSize": 36, "labelColor": "#4D4D4D", "labelPadding": 8, "tickColor": "#333", "tickSize": 8, "tickWidth": 2.5, "domainColor": "#000", "domainWidth": 2.5}},
                      "y": {"field": "y", "type": "quantitative", "scale": {"domain": [-0.34, 7.56], "nice": false, "zero": false},
                        "axis": {"values": [0, 2, 4, 6], "format": "d", "title": "−log10(p_value)", "titleFont": "Liberation Serif", "titleFontSize": 50, "titleFontWeight": "normal", "titleColor": "#000", "titlePadding": 12, "labelFont": "Liberation Sans", "labelFontSize": 36, "labelColor": "#4D4D4D", "labelPadding": 12, "tickColor": "#333", "tickSize": 8, "tickWidth": 2.5, "domainColor": "#000", "domainWidth": 2.5}},
                      "color": {"datum": "NOT_CHANGE", "type": "nominal",
                        "scale": {"domain": ["DOWN", "NOT_CHANGE", "UP"], "range": ["#8E8CC6", "#CFCFCF", "#F0911F"]},
                        "legend": {"orient": "none", "legendX": 1506, "legendY": -41, "title": "group", "titleFontSize": 48, "titleFontWeight": "normal", "titleColor": "#000", "titlePadding": 40, "labelFontSize": 40, "labelColor": "#000", "symbolType": "circle", "symbolSize": 227, "rowPadding": 47, "symbolOffset": 17, "labelOffset": 48}}
                    }
                  },
                  {
                    "data": {"name": "sig"},
                    "mark": {"type": "circle", "size": 227, "opacity": 1},
                    "encoding": {
                      "x": {"field": "x", "type": "quantitative"},
                      "y": {"field": "y", "type": "quantitative"},
                      "color": {"field": "g", "type": "nominal"}
                    }
                  },
                  {
                    "data": {"values": [{"v": -1}, {"v": 1}]},
                    "mark": {"type": "rule", "color": "#111", "strokeWidth": 2.5, "strokeDash": [3, 7, 17, 7]},
                    "encoding": {"x": {"field": "v", "type": "quantitative"}}
                  },
                  {
                    "data": {"values": [{"v": 1.301}]},
                    "mark": {"type": "rule", "color": "#111", "strokeWidth": 2.5, "strokeDash": [3, 7, 17, 7]},
                    "encoding": {"y": {"field": "v", "type": "quantitative"}}
                  },
                  {
                    "data": {"name": "seg"},
                    "mark": {"type": "rule", "color": "#3A9A5B", "strokeWidth": 2.5},
                    "encoding": {"x": {"field": "x", "type": "quantitative"}, "y": {"field": "y", "type": "quantitative"}, "x2": {"field": "x2"}, "y2": {"field": "y2"}}
                  },
                  {
                    "data": {"name": "vlab"},
                    "mark": {"type": "text", "fontSize": 30, "color": "#333", "align": "center", "baseline": "middle", "font": "Liberation Sans"},
                    "encoding": {"x": {"field": "x", "type": "quantitative"}, "y": {"field": "y", "type": "quantitative"}, "text": {"field": "t"}}
                  }
                ]
              },
              {
                "hconcat": [
                  {
                    "width": 671, "height": 611,
                    "title": {"text": "D", "fontSize": 47, "dx": -16, "offset": 82},
                    "data": {"name": "bars"},
                    "encoding": {
                      "x": {"field": "gene", "type": "nominal", "sort": null, "scale": {"paddingInner": 0.1, "paddingOuter": 0.15},
                        "axis": {"title": null, "labelAngle": 0, "labelFont": "Liberation Serif", "labelFontSize": 37, "labelColor": "#4D4D4D", "labelPadding": 10, "tickColor": "#333", "tickSize": 8, "tickWidth": 2.5, "domainColor": "#000", "domainWidth": 2.5}}
                    },
                    "layer": [
                      {
                        "mark": {"type": "bar"},
                        "encoding": {
                          "xOffset": {"field": "s", "type": "nominal", "scale": {"domain": ["D", "L"], "paddingInner": 0, "paddingOuter": 0}},
                          "y": {"field": "v", "type": "quantitative", "stack": null, "title": "gene expression level between stripes", "scale": {"domain": [-0.36, 7.52], "nice": false, "zero": false},
                            "axis": {"values": [0, 2, 4, 6], "format": "d", "titleFont": "Liberation Serif", "titleFontSize": 45, "titleFontWeight": "normal", "titleColor": "#000", "titlePadding": 8, "titleY": 354, "labelFontSize": 36, "labelColor": "#4D4D4D", "labelPadding": 12, "tickColor": "#333", "tickSize": 8, "tickWidth": 2.5, "domainColor": "#000", "domainWidth": 2.5}},
                          "y2": {"datum": 0},
                          "color": {"field": "s", "type": "nominal", "scale": {"domain": ["D", "L"], "range": ["#B8B5AE", "#D9BF3F"]},
                            "legend": {"orient": "none", "legendX": 741, "legendY": 199, "title": "Stripes", "titleFontSize": 46, "titleFontWeight": "normal", "titleColor": "#000", "titlePadding": 22, "labelFontSize": 40, "labelColor": "#000", "symbolType": "square", "symbolSize": 4489, "rowPadding": 4, "labelOffset": 24, "symbolStrokeWidth": 0}}
                        }
                      },
                      {
                        "mark": {"type": "rule", "color": "#222", "strokeWidth": 3},
                        "encoding": {"xOffset": {"field": "s", "type": "nominal"}, "y": {"field": "lo", "type": "quantitative", "title": "gene expression level between stripes"}, "y2": {"field": "hi"}}
                      },
                      {
                        "mark": {"type": "tick", "color": "#222", "thickness": 3, "size": 32},
                        "encoding": {"xOffset": {"field": "s", "type": "nominal"}, "y": {"field": "lo", "type": "quantitative", "title": "gene expression level between stripes"}}
                      },
                      {
                        "mark": {"type": "tick", "color": "#222", "thickness": 3, "size": 32},
                        "encoding": {"xOffset": {"field": "s", "type": "nominal"}, "y": {"field": "hi", "type": "quantitative", "title": "gene expression level between stripes"}}
                      }
                    ]
                  },
                  {
                    "width": 546, "height": 613,
                    "title": {"text": "E", "fontSize": 47, "dx": -11, "offset": 81},
                    "encoding": {
                      "x": {"field": "gene", "type": "nominal", "sort": ["ASIP", "DCT", "MC1R", "TYR", "TYRP1"], "scale": {"paddingInner": 0.267, "paddingOuter": 0.233},
                        "axis": {"title": null, "labelAngle": -30, "labelFont": "Liberation Serif", "labelFontSize": 37, "labelColor": "#4D4D4D", "labelPadding": 4, "tickColor": "#333", "tickSize": 8, "tickWidth": 2.5, "domainColor": "#000", "domainWidth": 2.5}}
                    },
                    "layer": [
                      {
                        "data": {"name": "box"},
                        "mark": {"type": "rule", "color": "#333", "strokeWidth": 2.5},
                        "encoding": {
                          "xOffset": {"field": "s", "type": "nominal", "scale": {"domain": ["D", "L"], "paddingInner": 0, "paddingOuter": 0}},
                          "y": {"field": "lo", "type": "quantitative", "title": "FPKM", "scale": {"domain": [0.03, 5.4], "nice": false, "zero": false},
                            "axis": {"values": [1, 2, 3, 4, 5], "format": "d", "titleFont": "Liberation Serif", "titleFontSize": 44, "titleFontWeight": "normal", "titleColor": "#000", "titlePadding": 18, "labelFontSize": 36, "labelColor": "#4D4D4D", "labelPadding": 12, "tickColor": "#333", "tickSize": 8, "tickWidth": 2.5, "domainColor": "#000", "domainWidth": 2.5}},
                          "y2": {"field": "hi"}
                        }
                      },
                      {
                        "data": {"name": "box"},
                        "mark": {"type": "bar", "stroke": "#333", "strokeWidth": 2.5},
                        "encoding": {
                          "xOffset": {"field": "s", "type": "nominal"},
                          "y": {"field": "q1", "type": "quantitative", "title": "FPKM"},
                          "y2": {"field": "q3"},
                          "color": {"field": "s", "type": "nominal", "scale": {"domain": ["L", "D"], "range": ["#D9BF3F", "#B8B5AE"]},
                            "legend": {"orient": "none", "legendX": 617, "legendY": 202, "title": "Stripe", "titleFontSize": 46, "titleFontWeight": "normal", "titleColor": "#000", "titlePadding": 22, "labelFontSize": 40, "labelColor": "#000",
                              "symbolType": "M-1,-0.6H1V0.6H-1Z M-1,0H1 M0,-0.6V-0.95 M0,0.6V0.95", "symbolSize": 3249, "symbolStrokeColor": "#333", "symbolStrokeWidth": 2.5, "rowPadding": 19, "labelOffset": 36}}
                        }
                      },
                      {
                        "data": {"name": "box"},
                        "mark": {"type": "tick", "color": "#333", "thickness": 4.5, "size": 38},
                        "encoding": {"xOffset": {"field": "s", "type": "nominal"}, "y": {"field": "med", "type": "quantitative", "title": "FPKM"}}
                      },
                      {
                        "data": {"name": "outl"},
                        "mark": {"type": "circle", "color": "#2a2a2a", "size": 290, "opacity": 1},
                        "encoding": {"xOffset": {"field": "s", "type": "nominal"}, "y": {"field": "v", "type": "quantitative", "title": "FPKM"}}
                      }
                    ]
                  }
                ],
                "spacing": 407, "bounds": "flush",
                "resolve": {"scale": {"x": "independent", "y": "independent", "color": "independent", "xOffset": "independent"}, "legend": {"color": "independent"}}
              }
            ],
            "spacing": 392, "bounds": "flush",
            "resolve": {"scale": {"x": "independent", "y": "independent", "color": "independent"}, "legend": {"color": "independent"}}
          }
        ],
        "spacing": 0, "bounds": "flush",
        "resolve": {"scale": {"x": "independent", "y": "independent", "color": "independent"}, "legend": {"color": "independent"}}
      }
    ],
    "spacing": 1574, "bounds": "flush",
    "resolve": {"scale": {"x": "independent", "y": "independent", "color": "independent"}, "legend": {"color": "independent"}}
  },
  {
    "width": 3530, "height": 605,
    "title": {"text": "C", "fontSize": 50, "dx": -6, "offset": 9},
    "layer": [
      {
        "data": {"name": "cband"},
        "mark": {"type": "rect", "color": "#F9F8DA"},
        "encoding": {
          "x": {"field": "a", "type": "quantitative", "scale": {"domain": [87.33153, 88.33837], "nice": false, "zero": false}, "axis": null},
          "x2": {"field": "b"},
          "y": {"datum": 1.2, "type": "quantitative", "scale": {"domain": [0, 12.1], "nice": false, "zero": false, "reverse": true}, "axis": null},
          "y2": {"datum": 2.82}
        }
      },
      {
        "data": {"name": "grid"},
        "mark": {"type": "rule", "color": "#D9D9D9", "strokeWidth": 2},
        "encoding": {"x": {"field": "mb", "type": "quantitative"}, "y": {"datum": 1.48, "type": "quantitative"}, "y2": {"datum": 12.06}}
      },
      {
        "data": {"name": "cband"},
        "mark": {"type": "rect", "color": "#2E7EBF"},
        "encoding": {"x": {"field": "a", "type": "quantitative"}, "x2": {"field": "b"}, "y": {"datum": 2.84, "type": "quantitative"}, "y2": {"datum": 3.82}}
      },
      {
        "data": {"name": "cband"},
        "mark": {"type": "rule", "color": "#111", "strokeWidth": 3},
        "encoding": {"x": {"field": "a", "type": "quantitative"}, "x2": {"field": "b"}, "y": {"datum": 1.23, "type": "quantitative"}}
      },
      {
        "data": {"name": "blk"},
        "mark": {"type": "rect", "color": "#0A0A0A"},
        "encoding": {"x": {"field": "a", "type": "quantitative"}, "x2": {"field": "b"}, "y": {"datum": 1.2, "type": "quantitative"}, "y2": {"datum": 1.48}}
      },
      {
        "data": {"name": "grid"},
        "transform": [{"filter": "isValid(datum.lab)"}],
        "mark": {"type": "text", "align": "left", "baseline": "middle", "fontSize": 42, "color": "#555", "dx": 1},
        "encoding": {"x": {"field": "mb", "type": "quantitative"}, "y": {"datum": 1.98, "type": "quantitative"}, "text": {"field": "lab"}}
      },
      {
        "data": {"name": "chrom"},
        "mark": {"type": "text", "align": "center", "baseline": "middle", "fontSize": 42, "fontWeight": "bold", "color": "#E3EEF8"},
        "encoding": {"x": {"field": "mb", "type": "quantitative"}, "y": {"datum": 3.34, "type": "quantitative"}, "text": {"field": "t"}}
      },
      {
        "data": {"name": "ruler"},
        "mark": {"type": "rule", "color": "#555", "strokeWidth": 4},
        "encoding": {"x": {"field": "a", "type": "quantitative"}, "x2": {"field": "b"}, "y": {"datum": 0.72, "type": "quantitative"}}
      },
      {
        "data": {"name": "rtext"},
        "mark": {"type": "text", "align": "left", "baseline": "middle", "fontSize": 42, "color": "#444"},
        "encoding": {"x": {"field": "mb", "type": "quantitative"}, "y": {"datum": 0.72, "type": "quantitative"}, "text": {"field": "t"}}
      },
      {
        "data": {"values": [{"a": 88.3068, "b": 88.3158}]},
        "mark": {"type": "rule", "color": "#000", "strokeWidth": 6},
        "encoding": {"x": {"field": "a", "type": "quantitative"}, "x2": {"field": "b"}, "y": {"datum": 0.72, "type": "quantitative"}}
      },
      {
        "data": {"values": [{"mb": 88.3233}]},
        "mark": {"type": "point", "shape": "M-1,-0.26L1,0L-1,0.26Z", "filled": true, "color": "#000", "size": 6084, "opacity": 1},
        "encoding": {"x": {"field": "mb", "type": "quantitative"}, "y": {"datum": 0.72, "type": "quantitative"}}
      },
      {
        "data": {"name": "blocks"},
        "mark": {"type": "rect"},
        "encoding": {
          "x": {"field": "a", "type": "quantitative"}, "x2": {"field": "b"},
          "y": {"field": "top", "type": "quantitative"}, "y2": {"field": "bot"},
          "color": {"field": "t", "type": "nominal", "scale": {"domain": ["lnc", "pc"], "range": ["#8E6A99", "#B3201F"]}, "legend": null}
        }
      },
      {
        "data": {"name": "hl"},
        "mark": {"type": "rect", "color": "#B6D78F"},
        "encoding": {"x": {"field": "a", "type": "quantitative"}, "x2": {"field": "b"}, "y": {"field": "top", "type": "quantitative"}, "y2": {"field": "bot"}}
      },
      {
        "data": {"name": "gbox"},
        "mark": {"type": "rect", "filled": false, "stroke": "#7FB548", "strokeWidth": 2.5},
        "encoding": {"x": {"field": "a", "type": "quantitative"}, "x2": {"field": "b"}, "y": {"field": "top", "type": "quantitative"}, "y2": {"field": "bot"}}
      },
      {
        "data": {"name": "glab"},
        "mark": {"type": "text", "align": "left", "baseline": "middle", "fontSize": 41},
        "encoding": {
          "x": {"field": "x", "type": "quantitative"}, "y": {"field": "y", "type": "quantitative"}, "text": {"field": "n"},
          "fill": {"field": "t", "type": "nominal", "scale": {"domain": ["lnc", "pc"], "range": ["#9A87A6", "#C9303A"]}, "legend": null}
        }
      },
      {
        "data": {"name": "redsolid"},
        "mark": {"type": "rule", "color": "#E33B3B", "strokeWidth": 2},
        "encoding": {"x": {"field": "mb", "type": "quantitative"}, "y": {"datum": 0.32, "type": "quantitative"}, "y2": {"datum": 12.06}}
      },
      {
        "data": {"name": "reddash"},
        "mark": {"type": "rule", "color": "#E33B3B", "strokeWidth": 2, "strokeDash": [6, 4]},
        "encoding": {"x": {"field": "mb", "type": "quantitative"}, "y": {"datum": 0.32, "type": "quantitative"}, "y2": {"datum": 12.06}}
      }
    ]
  }
],
"spacing": 2351,
"bounds": "flush",
"resolve": {"scale": {"x": "independent", "y": "independent", "color": "independent"}, "legend": {"color": "independent"}}
}
